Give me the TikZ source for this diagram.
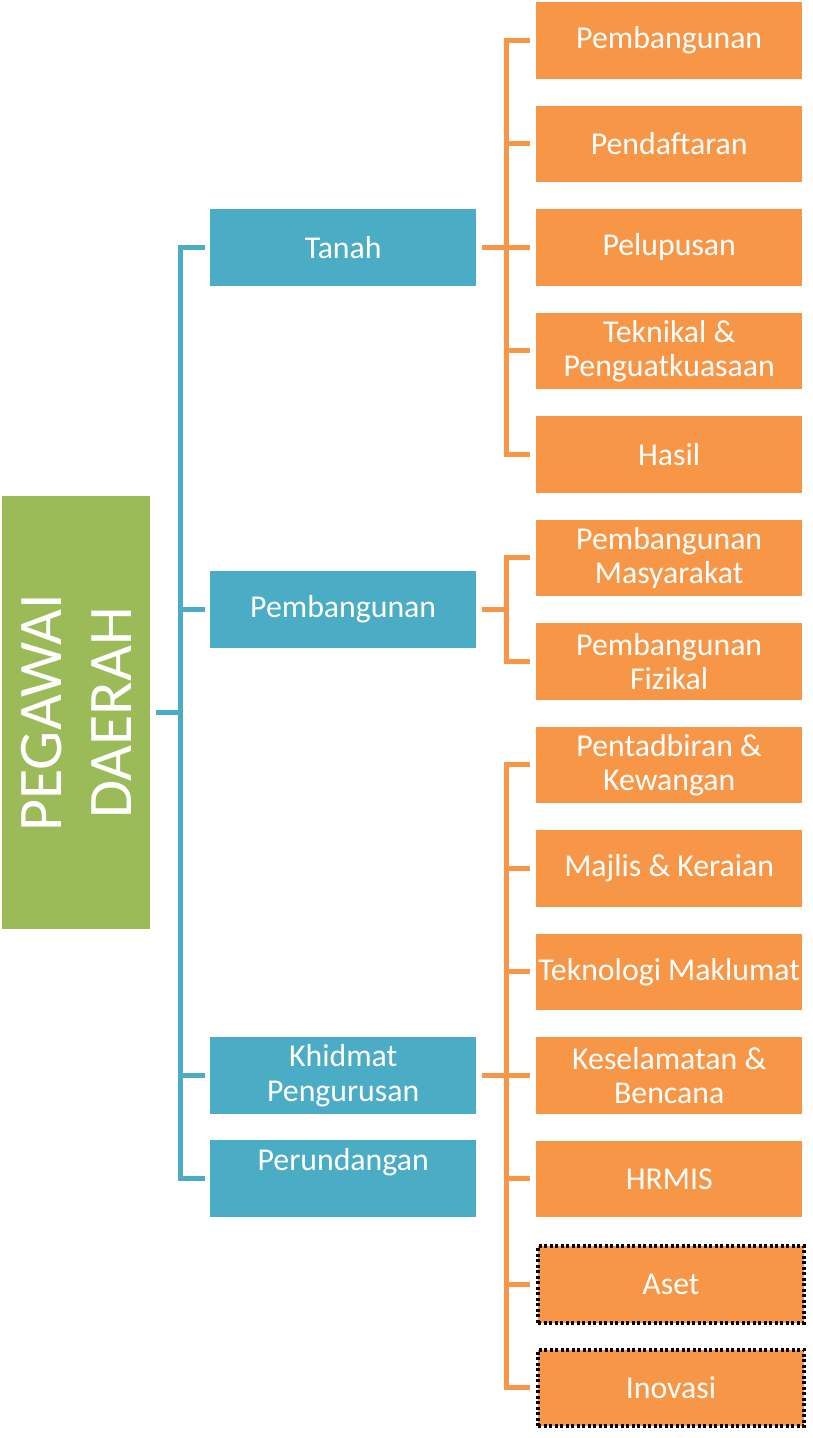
\documentclass[tikz,border=0pt]{standalone}
\usepackage{fontspec}
\setmainfont{Carlito}
\definecolor{orangec}{HTML}{F79646}
\definecolor{bluec}{HTML}{4BACC6}
\definecolor{greenc}{HTML}{9BBB59}
\begin{document}
\begin{tikzpicture}[x=1pt,y=-1pt,
  base/.style={inner sep=0pt, text=white, align=center, anchor=north west,
    minimum width=266pt, minimum height=76.5pt, font=\fontsize{31.8}{34.5}\selectfont},
  obox/.style={base, fill=orangec},
  dbox/.style={base, fill=orangec, draw=black, line width=4pt, dash pattern=on 3pt off 2.5pt},
  bbox/.style={base, fill=bluec},
  rootbox/.style={fill=greenc, inner sep=0pt, anchor=north west, minimum width=148pt, minimum height=433pt},
  bline/.style={draw=bluec, line width=5pt},
  oline/.style={draw=orangec, line width=5pt},
]
\useasboundingbox (0,0) rectangle (812,1438);
% root
\node[rootbox] (root) at (2,496) {};
\node[text=white, rotate=90, align=center, font=\fontsize{62}{70}\selectfont] (roottext) at (root.center) {PEGAWAI\\DAERAH};
% blue
\node[bbox] (tanah) at (210,209) {Tanah};
\node[bbox] (pemb) at (210,571) {Pembangunan};
\node[bbox] (khid) at (210,1037) {Khidmat\\Pengurusan};
\node[bbox] (perund) at (210,1140) {};
\node[text=white, inner sep=0pt, font=\fontsize{31.8}{34.5}\selectfont] (perundtext) at ([yshift=16pt]perund.center) {Perundangan};
% orange
\node[obox] (o1) at (536,2) {Pembangunan};
\node[obox] (o2) at (536,105.5) {Pendaftaran};
\node[obox] (o3) at (536,209) {Pelupusan};
\node[obox] (o4) at (536,312.5) {Teknikal \&\\Penguatkuasaan};
\node[obox] (o5) at (536,416) {Hasil};
\node[obox] (o6) at (536,519.5) {Pembangunan\\Masyarakat};
\node[obox] (o7) at (536,623) {Pembangunan\\Fizikal};
\node[obox] (o8) at (536,726.5) {Pentadbiran \&\\Kewangan};
\node[obox] (o9) at (536,830) {Majlis \& Keraian};
\node[obox] (o10) at (536,933.5) {Teknologi Maklumat};
\node[obox] (o11) at (536,1037) {Keselamatan \&\\Bencana};
\node[obox] (o12) at (536,1140.5) {HRMIS};
\node[dbox] (o13) at (536,1244) {Aset};
\node[dbox] (o14) at (536,1347.5) {Inovasi};
% blue connectors
\coordinate (bt) at ([xshift=-30pt]tanah.west);
\coordinate (bb) at ([xshift=-30pt]perund.west);
\draw[bline] ([xshift=-5pt]tanah.west) -- (bt) -- (bb) -- ([xshift=-5pt]perund.west);
\draw[bline] ([xshift=-5pt]pemb.west) -- ([xshift=-30pt]pemb.west);
\draw[bline] ([xshift=-5pt]khid.west) -- ([xshift=-30pt]khid.west);
\draw[bline] ([xshift=6pt]root.east) -- (root.east -| bt);
% orange connectors
\foreach \i in {1,...,14}{
  \draw[oline] ([xshift=-6pt]o\i.west) -- ([xshift=-32pt]o\i.west);
}
\draw[oline] ([xshift=-30pt]o1.west) -- ([xshift=-30pt]o5.west);
\draw[oline] ([xshift=-30pt]o6.west) -- ([xshift=-30pt]o7.west);
\draw[oline] ([xshift=-30pt]o8.west) -- ([xshift=-30pt]o14.west);
\draw[oline] ([xshift=6pt]tanah.east) -- ([xshift=-30pt]o3.west);
\coordinate (pj) at ([xshift=-30pt]o6.west);
\draw[oline] ([xshift=6pt]pemb.east) -- (pemb.east -| pj);
\draw[oline] ([xshift=6pt]khid.east) -- ([xshift=-30pt]o11.west);
\end{tikzpicture}
\end{document}
